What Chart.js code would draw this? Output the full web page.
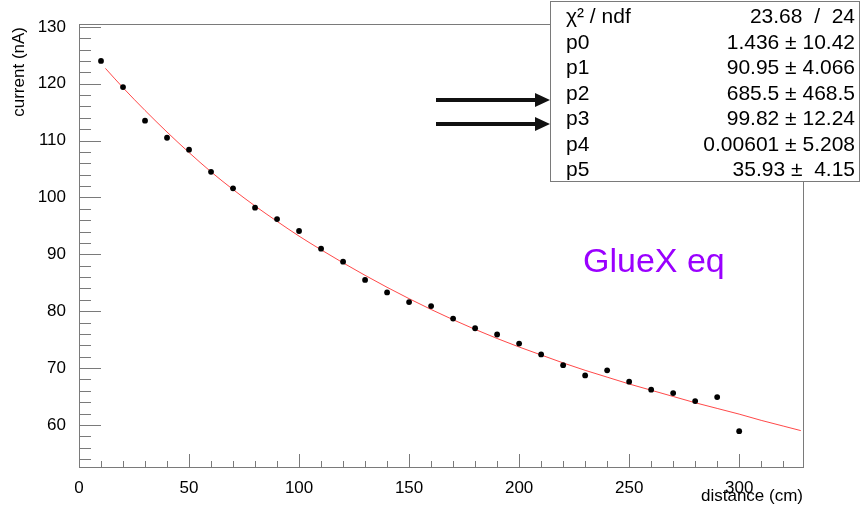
<!DOCTYPE html>
<html>
<head>
<meta charset="utf-8">
<script src="https://cdn.jsdelivr.net/npm/chart.js@4/dist/chart.umd.min.js"></script>
<style>
  body { margin: 0; background: #fff; }
  canvas { display: block; }
</style>
</head>
<body>
<canvas id="fitChart" width="866" height="509"></canvas>
<script>
// measured points (distance in cm, current in nA)
const distance = [10, 20, 30, 40, 50, 60, 70, 80, 90, 100, 110, 120, 130, 140, 150,
                  160, 170, 180, 190, 200, 210, 220, 230, 240, 250, 260, 270, 280, 290, 300];
const current = [124.0, 119.4, 113.5, 110.5, 108.4, 104.5, 101.6, 98.2, 96.2, 94.1, 91.0, 88.7, 85.5, 83.3, 81.6,
                 80.9, 78.7, 77.0, 75.9, 74.3, 72.4, 70.5, 68.7, 69.6, 67.6, 66.2, 65.6, 64.2, 64.9, 58.9];

// fit curve
const fitX = [12, 20, 30, 40, 50, 60, 70, 80, 90, 100, 110, 120, 130, 140, 150, 160, 170,
              180, 190, 200, 210, 220, 230, 240, 250, 260, 270, 280, 290, 300, 310, 320, 328];
const fitY = [122.7, 119.3, 115.3, 111.5, 107.9, 104.5, 101.4, 98.5, 95.8, 93.2, 90.8, 88.5, 86.3, 84.2, 82.2, 80.3, 78.5,
              76.8, 75.2, 73.7, 72.3, 70.9, 69.6, 68.4, 67.2, 66.1, 65.0, 63.9, 62.9, 61.9, 60.8, 59.8, 59.0];

const xTicks = [0, 50, 100, 150, 200, 250, 300];
const yTicks = [60, 70, 80, 90, 100, 110, 120, 130];

// stats box
const statNames = ['χ² / ndf', 'p0', 'p1', 'p2', 'p3', 'p4', 'p5'];
const statValues = ['23.68  /  24', '1.436 ± 10.42', '90.95 ± 4.066', '685.5 ± 468.5',
                    '99.82 ± 12.24', '0.00601 ± 5.208', '35.93 ±  4.15'];

const FONT = '"Liberation Sans", Arial, Helvetica, sans-serif';
const GREY = '#7a7a7a';

const rootStyle = {
    id: 'rootStyle',
    beforeDatasetsDraw(chart) {
        const ctx = chart.ctx;
        const a = chart.chartArea;
        const xs = chart.scales.x, ys = chart.scales.y;
        ctx.save();
        ctx.strokeStyle = GREY;
        ctx.lineWidth = 1;
        ctx.strokeRect(a.left + 0.5, a.top + 0.5, a.right - a.left, a.bottom - a.top);

        ctx.beginPath();
        // y ticks: major every 10, minor every 2
        for (let v = 54; v <= 130; v += 2) {
            const py = Math.round(ys.getPixelForValue(v)) + 0.5;
            const len = v % 10 === 0 ? 22 : 12;
            ctx.moveTo(a.left, py);
            ctx.lineTo(a.left + len, py);
        }
        // x ticks: major every 50, minor every 10
        for (let v = 10; v <= 320; v += 10) {
            const px = Math.round(xs.getPixelForValue(v)) + 0.5;
            const len = v % 50 === 0 ? 13 : 6;
            ctx.moveTo(px, a.bottom);
            ctx.lineTo(px, a.bottom - len);
        }
        ctx.stroke();
        ctx.restore();
    },
    afterDraw(chart) {
        const ctx = chart.ctx;
        const a = chart.chartArea;
        ctx.save();

        // axis titles
        ctx.fillStyle = '#000';
        ctx.font = '17px ' + FONT;
        ctx.textAlign = 'right';
        ctx.textBaseline = 'middle';
        ctx.fillText('distance (cm)', a.right, 496);
        ctx.save();
        ctx.translate(19, a.top + 3);
        ctx.rotate(-Math.PI / 2);
        ctx.fillText('current (nA)', 0, 0);
        ctx.restore();

        // label
        ctx.fillStyle = '#9a00ff';
        ctx.font = '34px ' + FONT;
        ctx.textAlign = 'left';
        ctx.textBaseline = 'alphabetic';
        ctx.fillText('GlueX eq', 583, 272);

        // stats box
        ctx.fillStyle = '#fff';
        ctx.fillRect(550, 1, 309, 180);
        ctx.strokeStyle = GREY;
        ctx.lineWidth = 1;
        ctx.strokeRect(550.5, 1.5, 309, 180);
        ctx.fillStyle = '#000';
        ctx.font = '21px ' + FONT;
        ctx.textBaseline = 'middle';
        statNames.forEach((name, i) => {
            const y = 17.5 + i * 25.5;
            ctx.textAlign = 'left';
            ctx.fillText(name, 566, y);
            ctx.textAlign = 'right';
            ctx.fillText(statValues[i], 855, y);
        });

        // arrows
        ctx.strokeStyle = '#111';
        ctx.fillStyle = '#111';
        ctx.lineWidth = 4;
        [100, 124].forEach(y => {
            ctx.beginPath();
            ctx.moveTo(436, y);
            ctx.lineTo(537, y);
            ctx.stroke();
            ctx.beginPath();
            ctx.moveTo(535, y - 7);
            ctx.lineTo(550, y);
            ctx.lineTo(535, y + 7);
            ctx.closePath();
            ctx.fill();
        });
        ctx.restore();
    }
};

Chart.defaults.font.family = FONT;
Chart.defaults.font.size = 17;
Chart.defaults.color = '#000';

const ctx = document.getElementById('fitChart').getContext('2d');
new Chart(ctx, {
    type: 'scatter',
    data: {
        datasets: [{
            label: 'data',
            data: distance.map((d, i) => ({ x: d, y: current[i] })),
            backgroundColor: '#000',
            borderColor: '#000',
            pointRadius: 2.9,
            pointBorderWidth: 0,
            order: 0
        }, {
            label: 'fit',
            data: fitX.map((d, i) => ({ x: d, y: fitY[i] })),
            showLine: true,
            borderColor: 'rgba(255, 40, 40, 0.85)',
            borderWidth: 1,
            pointRadius: 0,
            cubicInterpolationMode: 'monotone',
            order: 1
        }]
    },
    plugins: [rootStyle],
    options: {
        responsive: false,
        animation: false,
        devicePixelRatio: 1,
        layout: { padding: { left: 0, top: 24, right: 63, bottom: 0 } },
        plugins: {
            legend: { display: false },
            tooltip: { enabled: false }
        },
        scales: {
            x: {
                type: 'linear',
                min: 0,
                max: 329,
                grid: { display: false },
                border: { display: false },
                ticks: { padding: 3, maxRotation: 0 },
                afterBuildTicks: scale => { scale.ticks = xTicks.map(v => ({ value: v })); },
                afterFit: scale => { scale.height = 42; }
            },
            y: {
                type: 'linear',
                min: 52.6,
                max: 130.5,
                grid: { display: false },
                border: { display: false },
                ticks: { padding: 5 },
                afterBuildTicks: scale => { scale.ticks = yTicks.map(v => ({ value: v })); },
                afterFit: scale => { scale.width = 79; }
            }
        }
    }
});
</script>
</body>
</html>
